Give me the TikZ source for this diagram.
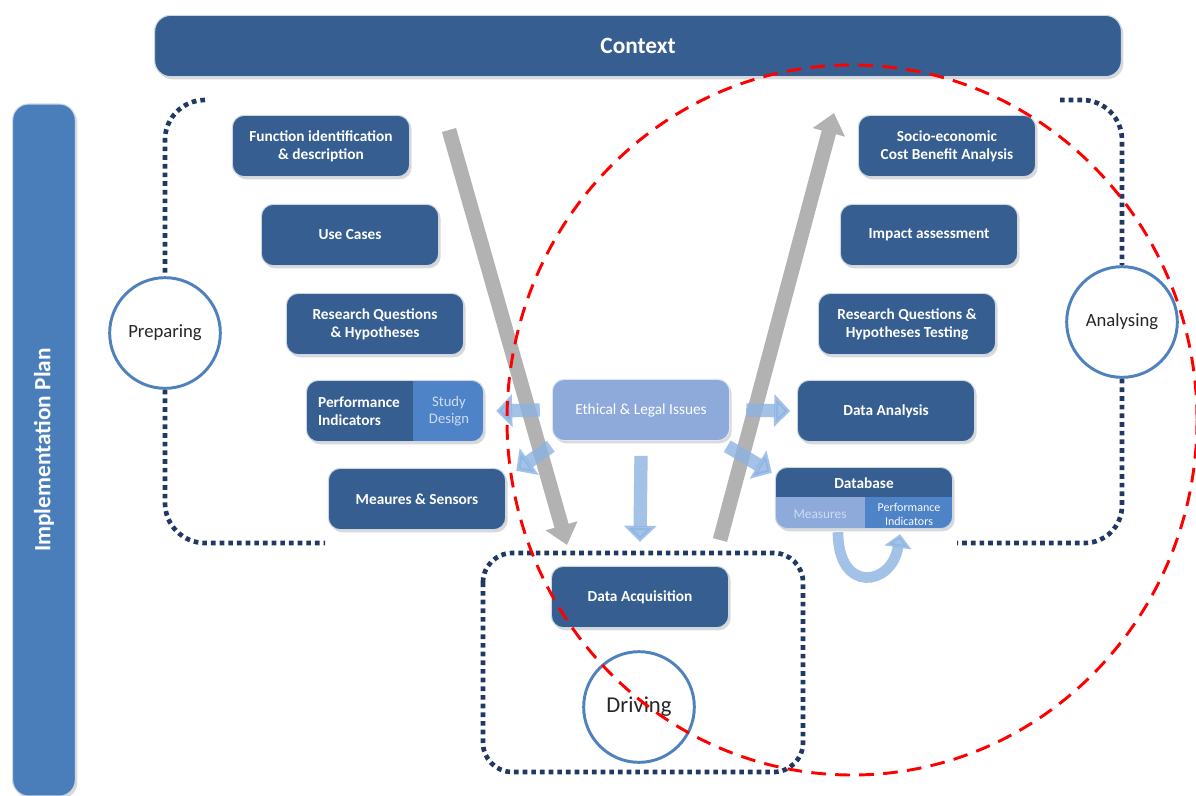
\documentclass[tikz,border=0pt]{standalone}
\usepackage{fontspec}
\setmainfont{Carlito}
\usepackage{tikz}
\usetikzlibrary{shapes, arrows.meta, positioning, shadows}
\definecolor{boxblue}{RGB}{54,94,145}
\definecolor{barblue}{RGB}{74,126,187}
\definecolor{midblue}{RGB}{79,131,200}
\definecolor{paleblue}{RGB}{142,170,219}
\definecolor{arrowblue}{RGB}{141,179,226}
\definecolor{ringblue}{RGB}{79,129,189}
\definecolor{dotblue}{RGB}{31,56,100}
\definecolor{vgray}{RGB}{178,178,178}
\definecolor{paletext}{RGB}{205,220,242}
\tikzstyle{block} = [draw=white!75!boxblue, line width=0.8pt, fill=boxblue, rectangle, rounded corners=9pt, minimum width=133pt, minimum height=46pt, text=white, align=center, font=\bfseries\fontsize{11.5}{13.5}\selectfont, drop shadow={shadow xshift=1.5pt, shadow yshift=-2pt, opacity=0.3}]
\tikzstyle{phase} = [draw=ringblue, line width=2.2pt, fill=white, circle, minimum size=83pt, text=black!85, font=\fontsize{14}{16}\selectfont]
\tikzstyle{frame} = [draw=dotblue, line width=3.5pt, dash pattern=on 3.5pt off 3pt]
\tikzstyle{varrow} = [draw=vgray, line width=11pt, -{Triangle[width=24pt,length=15pt]}]
\tikzstyle{barrow} = [draw=arrowblue, opacity=0.8, line width=10pt, -{Triangle[width=24pt,length=12pt]}]
\tikzstyle{sublabel} = [text=paletext, align=center, font=\fontsize{11}{13}\selectfont]

\begin{document}
\begin{tikzpicture}[x=0.75pt, y=-0.75pt, >=latex]
    \useasboundingbox (0,0) rectangle (1196,796);
    \clip (0,0) rectangle (1196,796);

    \node [block, minimum width=725pt, rounded corners=12pt, font=\bfseries\fontsize{17.5}{20}\selectfont] (ctx) at (638,46) {Context};
    \node [block, fill=barblue, rotate=90, minimum width=519pt, minimum height=47pt, rounded corners=12pt, font=\bfseries\fontsize{17.5}{20}\selectfont] (plan) at (44,450) {Implementation Plan};

    % the V
    \coordinate (vin) at (449,130);
    \coordinate (vbot) at (567,545);
    \coordinate (vout) at (720,540);
    \coordinate (vtop) at (834,113);
    \draw [varrow] (vin) -- (vbot);
    \draw [varrow] (vout) -- (vtop);

    % preparing side
    \node [block] (funcid) at (321,146) {Function identification\\\& description};
    \node [block] (usecase) at (350,235) {Use Cases};
    \node [block] (rqh) at (375,324) {Research Questions\\\& Hypotheses};
    \node [block, path picture={\fill[midblue, sharp corners] ([xshift=-53pt]path picture bounding box.north east) rectangle (path picture bounding box.south east);}] (pisd) at (395,411) {};
    \node [text=white, align=left, font=\bfseries\fontsize{11.5}{13.5}\selectfont] (perflbl) at (359,411) {Performance\\Indicators};
    \node [sublabel] (studylbl) at (449,411) {Study\\Design};
    \node [block] (measens) at (417,499) {Meaures \& Sensors};

    % analysing side
    \node [block] (socio) at (947,146) {Socio-economic\\Cost Benefit Analysis};
    \node [block] (impact) at (929,235) {Impact assessment};
    \node [block] (rqht) at (907,324) {Research Questions \&\\Hypotheses Testing};
    \node [block] (dataana) at (886,411) {Data Analysis};
    \node [block, path picture={\fill[paleblue, sharp corners] (path picture bounding box.south west) rectangle ([xshift=67.5pt,yshift=24pt]path picture bounding box.south west);
        \fill[midblue, sharp corners] ([xshift=67.5pt]path picture bounding box.south west) rectangle ([yshift=24pt]path picture bounding box.south east);}] (dbase) at (864,498) {};
    \node [text=white, font=\bfseries\fontsize{11.5}{13.5}\selectfont] (dbtitle) at (864,483) {Database};
    \node [sublabel, font=\fontsize{10}{12}\selectfont] (dbmeas) at (820,514) {Measures};
    \node [sublabel, text=white!85!paletext, font=\fontsize{9}{10.5}\selectfont] (dbperf) at (909,514) {Performance\\Indicators};

    % middle
    \node [block, fill=paleblue, draw=white!70!paleblue, font=\fontsize{11.5}{13.5}\selectfont] (ethic) at (641,410) {Ethical \& Legal Issues};
    \node [block] (dataacq) at (640,597) {Data Acquisition};

    \draw [barrow] ([xshift=-9pt]ethic.west) -- ([xshift=9pt]pisd.east);
    \draw [barrow] ([shift={(-1,5)}]ethic.south west) -- ([shift={(10,3)}]measens.north east);
    \draw [barrow] ([xshift=12pt]ethic.east) -- ([xshift=-5pt]dataana.west);
    \draw [barrow] ([shift={(-3,5)}]ethic.south east) -- ([shift={(-3,6)}]dbase.north west);
    \draw [barrow] ([yshift=-11pt]ethic.south) -- ([yshift=18pt]dataacq.north);
    \draw [barrow, line width=8pt, -{Triangle[width=20pt,length=10pt]}] ([shift={(-26,3)}]dbase.south) .. controls +(0,62) and +(-8,52) .. ([shift={(36,5)}]dbase.south);

    % phases and dotted frames
    \node [phase] (prep) at (165,333) {Preparing};
    \node [phase] (anal) at (1122,322) {Analysing};
    \node [phase, font=\fontsize{17}{20}\selectfont] (drive) at (639,707) {Driving};
    \draw [frame, rounded corners=30pt] (205,100) -| (prep.north);
    \draw [frame, rounded corners=30pt] (prep.south) |- (325,543);
    \draw [frame, rounded corners=30pt] (1060,100) -| (anal.north);
    \draw [frame, rounded corners=28pt] (anal.south) |- (957,543);
    \draw [frame, rounded corners=22pt] (483,553) rectangle (803,772);

    \draw [red, line width=2.2pt, dash pattern=on 11pt off 7pt] (852,420) ellipse [x radius=345, y radius=355];
\end{tikzpicture}
\end{document}
